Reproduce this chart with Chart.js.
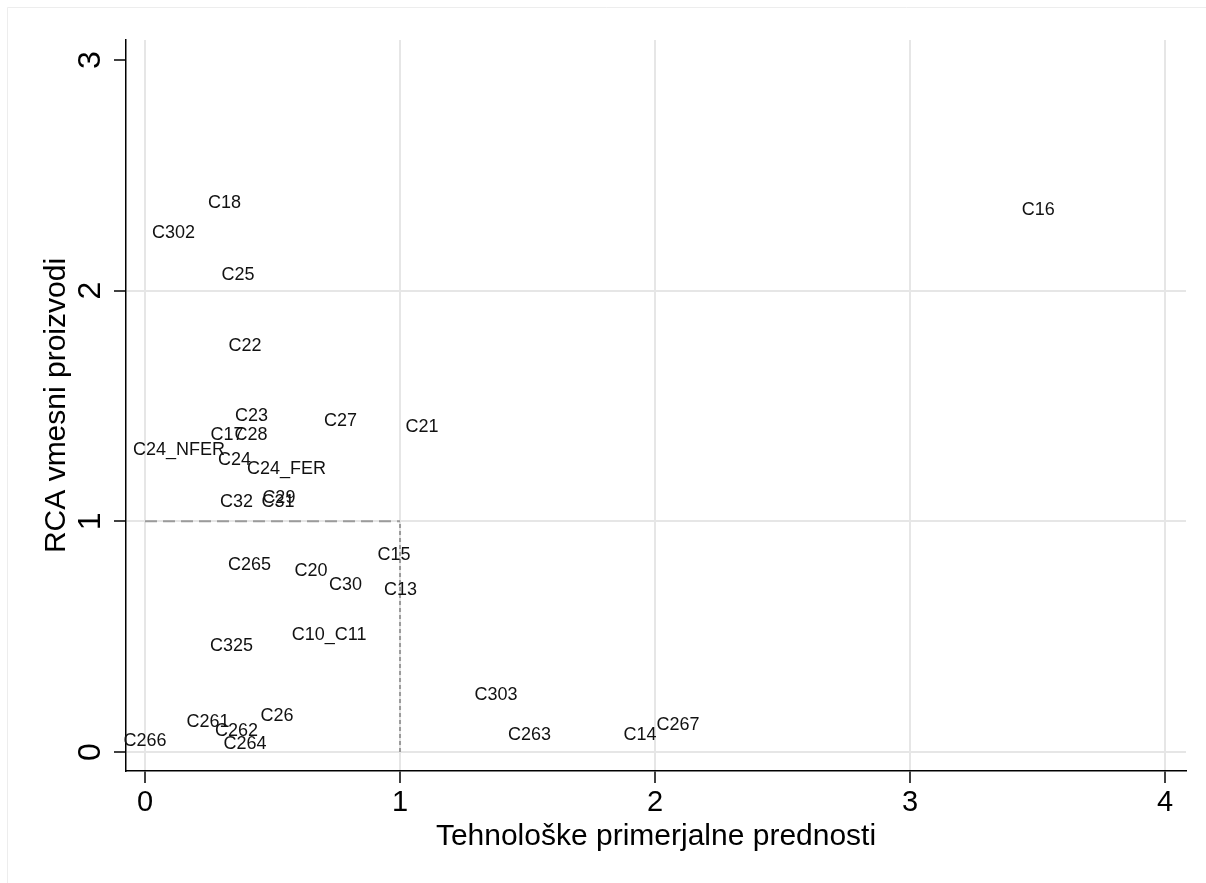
<!DOCTYPE html>
<html>
<head>
<meta charset="utf-8">
<script src="https://cdn.jsdelivr.net/npm/chart.js@4.4.1/dist/chart.umd.min.js"></script>
<style>
  body { margin: 0; background: #fff; }
  canvas { display: block; }
</style>
</head>
<body>
<canvas id="grafico" width="1206" height="883"></canvas>
<script>
const oznake = ["C18", "C302", "C25", "C22", "C23", "C27", "C21", "C17", "C28", "C24_NFER",
  "C24", "C24_FER", "C32", "C29", "C31", "C265", "C20", "C30", "C15", "C13",
  "C10_C11", "C325", "C26", "C261", "C262", "C264", "C266", "C303", "C263", "C14",
  "C267", "C16"];
const tehnoloske = [0.312, 0.112, 0.365, 0.392, 0.418, 0.767, 1.086, 0.322, 0.416, 0.133,
  0.351, 0.555, 0.359, 0.525, 0.522, 0.410, 0.651, 0.786, 0.976, 1.002,
  0.722, 0.339, 0.518, 0.247, 0.359, 0.392, 0.000, 1.376, 1.508, 1.941,
  2.090, 3.503];
const rcaVmesni = [2.382, 2.252, 2.066, 1.758, 1.457, 1.435, 1.407, 1.376, 1.376, 1.311,
  1.268, 1.225, 1.082, 1.103, 1.082, 0.809, 0.783, 0.722, 0.856, 0.702,
  0.509, 0.460, 0.158, 0.132, 0.093, 0.033, 0.046, 0.249, 0.074, 0.074,
  0.115, 2.350];

// mejne crte pri 1
const pragHorX = [0, 1];
const pragHorY = [1, 1];
const pragVerX = [1, 1];
const pragVerY = [0, 1];

const xTicks = [0, 1, 2, 3, 4];
const yTicks = [0, 1, 2, 3];
const xNaslov = "Tehnološke primerjalne prednosti";
const yNaslov = "RCA vmesni proizvodi";

const PISAVA = "'Liberation Sans', Arial, sans-serif";

function tocke(xs, ys) {
  return xs.map((x, i) => ({ x, y: ys[i] }));
}

const oznakePlugin = {
  id: "oznake",
  beforeDraw(chart) {
    const c = chart.ctx;
    c.save();
    c.fillStyle = "#fff";
    c.fillRect(0, 0, chart.width, chart.height);
    c.strokeStyle = "#ededed";
    c.lineWidth = 1;
    c.beginPath();
    c.moveTo(7.5, chart.height);
    c.lineTo(7.5, 7.5);
    c.lineTo(chart.width, 7.5);
    c.stroke();
    c.restore();
  },
  afterDatasetsDraw(chart) {
    const c = chart.ctx;
    const sx = chart.scales.x;
    const sy = chart.scales.y;
    c.save();
    c.fillStyle = "#111";
    c.font = "18px " + PISAVA;
    c.textAlign = "center";
    c.textBaseline = "middle";
    oznake.forEach((o, i) => {
      c.fillText(o, sx.getPixelForValue(tehnoloske[i]), sy.getPixelForValue(rcaVmesni[i]));
    });
    c.restore();
  },
  afterDraw(chart) {
    const c = chart.ctx;
    const sx = chart.scales.x;
    const sy = chart.scales.y;
    const area = chart.chartArea;
    c.save();
    c.fillStyle = "#000";

    // x oznake
    c.font = "29px " + PISAVA;
    c.textAlign = "center";
    c.textBaseline = "alphabetic";
    xTicks.forEach((v) => c.fillText(String(v), sx.getPixelForValue(v), 811));

    // y oznake, zasukane
    c.font = "32px " + PISAVA;
    yTicks.forEach((v) => {
      c.save();
      c.translate(100, sy.getPixelForValue(v));
      c.rotate(-Math.PI / 2);
      c.fillText(String(v), 0, 0);
      c.restore();
    });

    // naslova osi
    c.font = "30px " + PISAVA;
    c.fillText(xNaslov, (area.left + area.right) / 2, 845);
    c.save();
    c.translate(65, (area.top + area.bottom) / 2);
    c.rotate(-Math.PI / 2);
    c.fillText(yNaslov, 0, 0);
    c.restore();

    c.restore();
  },
};

const mrezaX = {
  color: "#e6e6e6",
  lineWidth: 2,
  drawTicks: true,
  tickLength: 12,
  tickColor: "#000",
  tickWidth: 1.5,
};

// zgornja crta mreze (y = 3) v izvirniku ni narisana
const mrezaY = Object.assign({}, mrezaX, {
  color: (ctx) => (ctx.tick && ctx.tick.value === 3 ? "rgba(0,0,0,0)" : "#e6e6e6"),
});

const grafico = new Chart(document.getElementById("grafico").getContext("2d"), {
  type: "scatter",
  data: {
    datasets: [
      {
        label: "prag1",
        data: tocke(pragHorX, pragHorY),
        showLine: true,
        borderColor: "#9b9b9b",
        borderWidth: 2,
        borderDash: [12, 6],
        pointRadius: 0,
      },
      {
        label: "prag2",
        data: tocke(pragVerX, pragVerY),
        showLine: true,
        borderColor: "#9b9b9b",
        borderWidth: 2,
        borderDash: [4, 3],
        pointRadius: 0,
      },
      {
        label: "panoge",
        data: tocke(tehnoloske, rcaVmesni),
        pointRadius: 0,
      },
    ],
  },
  options: {
    responsive: false,
    devicePixelRatio: 1,
    animation: false,
    layout: { padding: { left: 114, top: 40, right: 20, bottom: 100 } },
    plugins: { legend: { display: false }, tooltip: { enabled: false } },
    scales: {
      x: {
        type: "linear",
        min: -0.0745,
        max: 4.082,
        grid: mrezaX,
        border: { color: "#000", width: 1.5 },
        ticks: { display: false },
        afterBuildTicks: (axis) => { axis.ticks = xTicks.map((v) => ({ value: v })); },
      },
      y: {
        type: "linear",
        min: -0.0824,
        max: 3.087,
        grid: mrezaY,
        border: { color: "#000", width: 1.5 },
        ticks: { display: false },
        afterBuildTicks: (axis) => { axis.ticks = yTicks.map((v) => ({ value: v })); },
      },
    },
  },
  plugins: [oznakePlugin],
});
</script>
</body>
</html>
